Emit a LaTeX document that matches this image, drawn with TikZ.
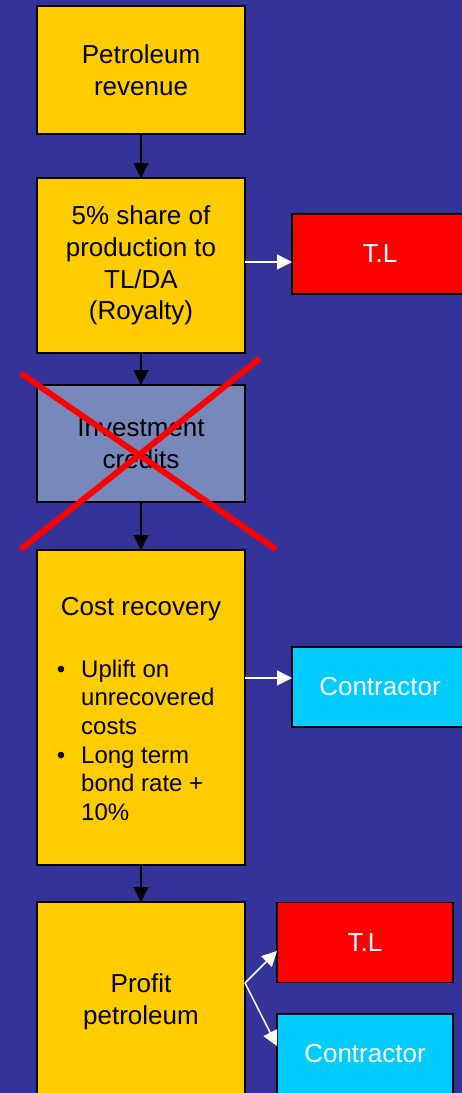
\documentclass[tikz,border=0pt]{standalone}
\usepackage{fontspec}
\setmainfont{Liberation Sans}
\usetikzlibrary{arrows.meta}
\definecolor{bg}{HTML}{333399}
\definecolor{yel}{HTML}{FFCC00}
\definecolor{steel}{HTML}{7788BB}
\definecolor{cyanb}{HTML}{00CCFF}
\begin{document}
\begin{tikzpicture}[x=1pt,y=-1pt,
  box/.style={draw=black,line width=1.5pt,inner sep=0pt,outer sep=0pt,minimum width=208pt,
    font=\fontsize{26}{31.7}\selectfont,align=center,text=black},
  ybox/.style={box,fill=yel},
  side/.style={draw=black,line width=1.5pt,inner sep=0pt,outer sep=0pt,minimum width=176pt,minimum height=80pt,
    font=\fontsize{26}{31.5}\selectfont,text=white},
  flow/.style={draw=black,line width=1.5pt,-{Triangle[length=15pt,width=15pt]}},
  wflow/.style={draw=white,line width=1.5pt,-{Triangle[length=15pt,width=15pt]}},
  txt/.style={inner sep=0pt,font=\fontsize{26}{28.7}\selectfont,text=black},
  btxt/.style={inner sep=0pt,font=\fontsize{24}{28.7}\selectfont,text=black},
  cross/.style={draw=red,line width=6pt}
]
\useasboundingbox (0,0) rectangle (462,1093);
\fill[bg] (0,0) rectangle (462,1093);

\node[ybox,minimum height=128pt] (rev) at (141,70) {Petroleum\\revenue};
\node[ybox,minimum height=175pt] (roy) at (141,265.5) {\raisebox{-3pt}{\parbox{200pt}{\centering 5\% share of\\production to\\TL/DA\\(Royalty)}}};
\node[box,fill=steel,minimum height=117pt] (inv) at (141,443.5) {\raisebox{-3pt}{\parbox{200pt}{\centering Investment\\credits}}};
\node[ybox,minimum height=315pt] (cost) at (141,707.5) {};
\node[ybox,minimum height=200pt] (prof) at (141,1002) {Profit\\petroleum};

\node[side,fill=red] (tl1) at (380,254) {T.L};
\node[side,fill=cyanb] (con1) at (380,687) {\raisebox{-1.5pt}{Contractor}};
\node[side,fill=red] (tl2) at (365,942.5) {T.L};
\node[side,fill=cyanb] (con2) at (365,1054) {\raisebox{-1.5pt}{Contractor}};

% cost recovery contents
\node[txt,anchor=base] (crt) at (141,615) {Cost recovery};
\foreach \t [count=\i] in {Uplift on,unrecovered,costs,Long term,bond rate +,10\%}{
  \node[btxt,anchor=base west] (cl\i) at (81,{677+28.7*(\i-1)}) {\t};
}
\node[btxt,anchor=base] (b1) at (61,677) {•};
\node[btxt,anchor=base] (b2) at (61,763) {•};

% vertical flow
\draw[flow] (rev) -- (roy);
\draw[flow] (roy) -- (inv);
\draw[flow] (inv) -- (cost);
\draw[flow] (cost) -- (prof);

% side arrows
\draw[wflow] (roy.east |- 0,262) -- (tl1.west |- 0,262);
\draw[wflow] (cost.east |- 0,678) -- (con1.west |- 0,678);
\coordinate (split) at (prof.east |- 0,983);
\draw[wflow] (split) -- (tl2.west |- 0,951);
\draw[wflow] (split) -- (con2.west |- 0,1046);

% red cross
\coordinate (x1) at (20.7,373.3);
\coordinate (x2) at (276,549.3);
\coordinate (x3) at (20.7,549.3);
\coordinate (x4) at (260,358.3);
\draw[cross] (x1) -- (x2);
\draw[cross] (x3) -- (x4);
\end{tikzpicture}
\end{document}
